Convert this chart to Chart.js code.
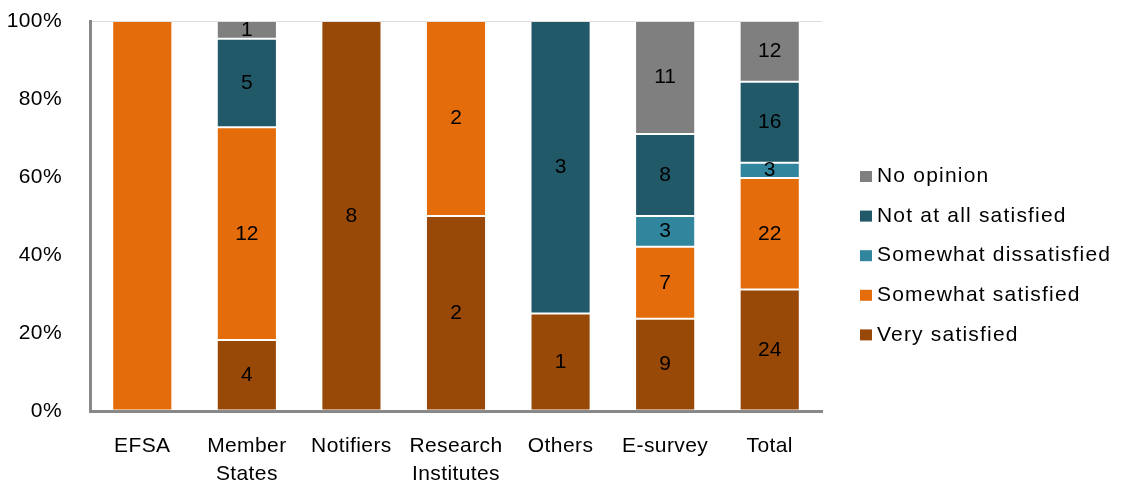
<!DOCTYPE html>
<html>
<head>
<meta charset="utf-8">
<script src="https://cdn.jsdelivr.net/npm/chart.js@4/dist/chart.umd.min.js"></script>
<style>
  html, body { margin: 0; padding: 0; background: #fff; }
  #wrap { width: 1129px; height: 484px; }
</style>
</head>
<body>
<div id="wrap"><canvas id="myChart" width="1129" height="484"></canvas></div>
<script>
const categories = ['EFSA', ['Member', 'States'], 'Notifiers', ['Research', 'Institutes'], 'Others', 'E-survey', 'Total'];
const verySatisfied = [0, 4, 8, 2, 1, 9, 24];
const somewhatSatisfied = [1, 12, 0, 2, 0, 7, 22];
const somewhatDissatisfied = [0, 0, 0, 0, 0, 3, 3];
const notAtAllSatisfied = [0, 5, 0, 0, 3, 8, 16];
const noOpinion = [0, 1, 0, 0, 0, 11, 12];
// EFSA's count is not printed in the original
const labelHidden = [true, false, false, false, false, false, false];
const yTicks = [0, 20, 40, 60, 80, 100];

const FONT = "'Liberation Sans', Arial, sans-serif";

const series = [
  { label: 'Very satisfied', counts: verySatisfied, color: '#984807' },
  { label: 'Somewhat satisfied', counts: somewhatSatisfied, color: '#E46C0A' },
  { label: 'Somewhat dissatisfied', counts: somewhatDissatisfied, color: '#31859C' },
  { label: 'Not at all satisfied', counts: notAtAllSatisfied, color: '#215968' },
  { label: 'No opinion', counts: noOpinion, color: '#7F7F7F' }
];

const totals = categories.map((c, i) => series.reduce((s, d) => s + d.counts[i], 0));

const datasets = series.map(d => ({
  label: d.label,
  counts: d.counts,
  data: d.counts.map((v, i) => v / totals[i] * 100),
  backgroundColor: d.color,
  borderColor: 'rgba(255,255,255,0.14)',
  borderWidth: 1,
  borderSkipped: false,
  barPercentage: 0.575,
  categoryPercentage: 1
}));

const spacing = {
  id: 'spacing',
  beforeUpdate(chart) { chart.ctx.letterSpacing = '0.4px'; },
  beforeDraw(chart) { chart.ctx.letterSpacing = '0.4px'; }
};

const barLabels = {
  id: 'barLabels',
  afterDatasetsDraw(chart) {
    const ctx = chart.ctx;
    ctx.save();
    ctx.letterSpacing = '0px';
    ctx.font = '21px ' + FONT;
    ctx.fillStyle = '#000';
    ctx.textAlign = 'center';
    ctx.textBaseline = 'middle';
    chart.data.datasets.forEach((ds, di) => {
      chart.getDatasetMeta(di).data.forEach((bar, i) => {
        const n = ds.counts[i];
        if (!n || labelHidden[i]) return;
        ctx.fillText(String(n), bar.x, (bar.y + bar.base) / 2);
      });
    });
    ctx.restore();
  }
};

const sideLegend = {
  id: 'sideLegend',
  afterDraw(chart) {
    const ctx = chart.ctx;
    ctx.save();
    ctx.letterSpacing = '1.2px';
    ctx.font = '21px ' + FONT;
    ctx.textBaseline = 'middle';
    ctx.textAlign = 'left';
    const items = chart.data.datasets.slice().reverse();
    items.forEach((ds, k) => {
      const cy = 176.5 + k * 39.6;
      ctx.fillStyle = ds.backgroundColor;
      ctx.fillRect(860, cy - 5.5, 12, 11);
      ctx.fillStyle = '#000';
      ctx.fillText(ds.label, 877, cy);
    });
    ctx.restore();
  }
};

new Chart(document.getElementById('myChart'), {
  type: 'bar',
  data: { labels: categories, datasets },
  plugins: [spacing, barLabels, sideLegend],
  options: {
    responsive: false,
    animation: false,
    layout: { padding: { left: 8, right: 307, top: 21, bottom: 0 } },
    plugins: { legend: { display: false }, tooltip: { enabled: false } },
    scales: {
      x: {
        stacked: true,
        grid: { display: false, drawTicks: false },
        border: { display: true, color: '#888888', width: 3 },
        ticks: { color: '#000', font: { family: FONT, size: 21, lineHeight: 1.35 }, padding: 21, maxRotation: 0, autoSkip: false },
        afterFit(s) { s.height = 73; }
      },
      y: {
        stacked: true,
        min: 0,
        max: 100,
        afterBuildTicks(s) { s.ticks = yTicks.map(v => ({ value: v })); },
        grid: { drawTicks: false, color: c => c.tick && c.tick.value === 100 ? '#DDDDDD' : 'rgba(0,0,0,0)' },
        border: { display: true, color: '#888888', width: 3 },
        ticks: { color: '#000', font: { family: FONT, size: 21 }, padding: 28, callback: v => v + '%' },
        afterFit(s) { s.width = 82; s.paddingTop = 12; s.paddingBottom = 12; }
      }
    }
  }
});
</script>
</body>
</html>
